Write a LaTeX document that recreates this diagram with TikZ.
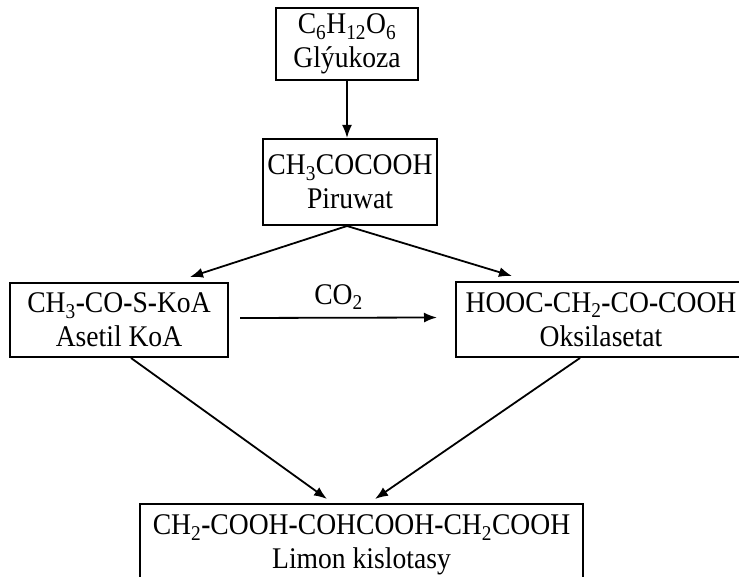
\documentclass[tikz,border=0pt]{standalone}
\usepackage{fontspec}
\setmainfont{Liberation Serif}[FakeStretch=0.92]
\usetikzlibrary{arrows.meta}
\newcommand{\sbs}[1]{\textsubscript{#1}}
\newcommand{\dsh}{\textbf{-}}
\begin{document}
\begin{tikzpicture}[x=1pt,y=1pt,
  every node/.style={font=\fontsize{30}{34}\selectfont},
  box/.style={draw,line width=2pt,align=center,inner sep=0pt},
  arr/.style={line width=1.8pt,-{Latex[length=13pt,width=10pt]}}]
\useasboundingbox (0,0) rectangle (739,576);
% Glucose
\node[box,minimum width=142pt,minimum height=72pt] (glu) at (347,532) {C\sbs{6}H\sbs{12}O\sbs{6}\\Glýukoza};
% Pyruvate
\node[box,minimum width=174pt,minimum height=86pt] (pir) at (350,394) {CH\sbs{3}COCOOH\\Piruwat};
% Acetyl CoA
\node[box,minimum width=218pt,minimum height=74pt] (ase) at (119,256) {CH\sbs{3}\dsh CO\dsh S\dsh KoA\\Asetil KoA};
% Oxaloacetate (runs past the right edge)
\node[box,minimum width=290pt,minimum height=75pt] (oks) at (601,256.5) {HOOC\dsh CH\sbs{2}\dsh CO\dsh COOH\\Oksilasetat};
% Citric acid (runs past the bottom edge)
\node[box,minimum width=443pt,minimum height=82pt] (lim) at (361.5,31) {CH\sbs{2}\dsh COOH\dsh COHCOOH\dsh CH\sbs{2}COOH\\Limon kislotasy};
% Arrows
\draw[arr] (glu.south) -- (glu.south |- pir.north);
\draw[arr] ([xshift=-3pt]pir.south) -- ([shift={(-39pt,5pt)}]ase.north east);
\draw[arr] ([xshift=-3pt]pir.south) -- ([shift={(57pt,5pt)}]oks.north west);
\draw[arr] ([shift={(11pt,2pt)}]ase.east) -- node[midway,yshift=21pt] (co) {CO\sbs{2}} ([shift={(-18pt,2pt)}]oks.west);
\draw[arr] ([xshift=12pt]ase.south) -- ([shift={(-34.5pt,4pt)}]lim.north);
\draw[arr] ([xshift=-21pt]oks.south) -- ([shift={(13.5pt,4pt)}]lim.north);
\end{tikzpicture}
\end{document}
